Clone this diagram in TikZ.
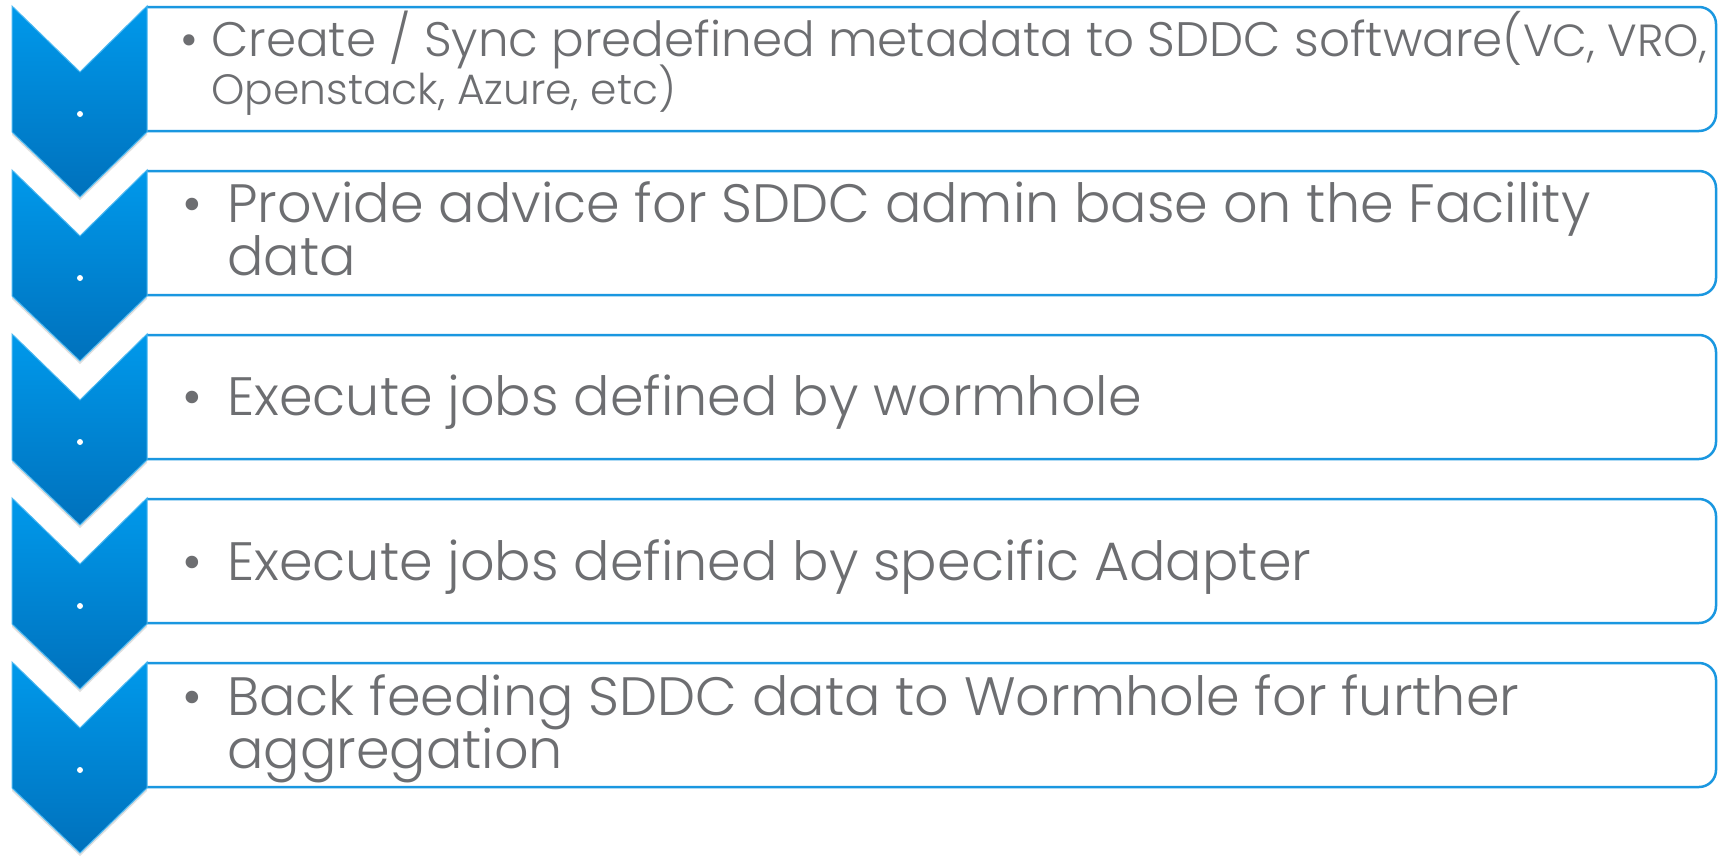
\documentclass[tikz,border=0pt]{standalone}
\usepackage{fontspec}
\setmainfont{Poppins}[UprightFont=* Light]
\usetikzlibrary{shadows}
\definecolor{txt}{HTML}{6D6E71}
\definecolor{btop}{HTML}{0099EB}
\definecolor{bbot}{HTML}{0071BC}
\definecolor{bline}{HTML}{1A97E0}
\begin{document}
\begin{tikzpicture}[x=1pt,y=-1pt,
  chev/.style={top color=btop,bottom color=bbot,draw=btop!70!white,line width=1pt,
    drop shadow={opacity=0.25,shadow xshift=0pt,shadow yshift=-3pt}},
  boxline/.style={draw=bline,line width=2.5pt},
  dotc/.style={circle,fill=white,inner sep=0pt,minimum size=6pt},
  big/.style={text=txt,anchor=base west,inner sep=0pt,font=\fontsize{54}{54}\selectfont},
  mid/.style={text=txt,anchor=base west,inner sep=0pt,font=\fontsize{48.4}{48}\selectfont},
  small/.style={text=txt,anchor=base west,inner sep=0pt,font=\fontsize{42.4}{42}\selectfont}]
\useasboundingbox (0,0) rectangle (1718,857);
\fill[white] (0,0) rectangle (1718,857);
\foreach \i in {0,...,4}{
  \pgfmathsetmacro{\yt}{6+164*\i}
  \draw[boxline] (147,\yt+1) -- (1699,\yt+1) arc(-90:0:17) -- (1716,\yt+108) arc(0:90:17) -- (147,\yt+125);
  \path[chev] (12,\yt) -- (80,\yt+66) -- (147,\yt) -- (147,\yt+126) -- (80,\yt+191) -- (12,\yt+126) -- cycle;
  \node[dotc] (d\i) at (80,\yt+108) {};
}
% box 1
\node[mid] (b1) at (180,56) {•};
\node[mid] (t1a) at (211,56) {Create / Sync predefined metadata to SDDC software(\fontsize{45}{45}\selectfont VC, VRO,};
\node[small] (t1b) at (211,104) {Openstack, Azure, etc)};
% box 2
\node[big] (b2) at (182,222) {•};
\node[big] (t2a) at (227,222) {Provide advice for SDDC admin base on the Facility};
\node[big] (t2b) at (227,275) {data};
% box 3
\node[big] (b3) at (182,415) {•};
\node[big] (t3) at (227,415) {Execute jobs defined by wormhole};
% box 4
\node[big] (b4) at (182,580) {•};
\node[big] (t4) at (227,580) {Execute jobs defined by specific Adapter};
% box 5
\node[big] (b5) at (182,715) {•};
\node[big] (t5a) at (227,715) {Back feeding SDDC data to Wormhole for further};
\node[big] (t5b) at (227,768) {aggregation};
\end{tikzpicture}
\end{document}
